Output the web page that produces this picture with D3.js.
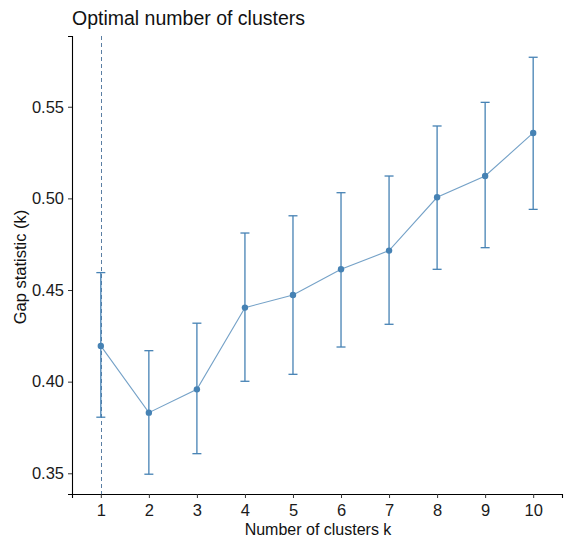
<!DOCTYPE html>
<html>
<head>
<meta charset="utf-8">
<script src="https://cdn.jsdelivr.net/npm/d3@7"></script>
<style>
  body { margin: 0; background: #fff; }
  text { font-family: "Liberation Sans", Arial, sans-serif; }
</style>
</head>
<body>
<svg id="chart" width="564" height="540"></svg>
<script>
let width = 564
let height = 540

// data
let ks = [1, 2, 3, 4, 5, 6, 7, 8, 9, 10]
let gap = [0.4195, 0.3831, 0.3958, 0.4404, 0.4473, 0.4613, 0.4715, 0.5006, 0.5122, 0.5357]
let gapLow = [0.3806, 0.3495, 0.3607, 0.4002, 0.4040, 0.4189, 0.4313, 0.4613, 0.4731, 0.4940]
let gapHigh = [0.4595, 0.4169, 0.4319, 0.4811, 0.4905, 0.5031, 0.5122, 0.5395, 0.5524, 0.5770]
let yTicks = [0.35, 0.40, 0.45, 0.50, 0.55]
let optimalK = 1

let margin = { top: 36, right: 2, bottom: 46, left: 72 }
let color = "#4682B4"

let svg = d3.select("#chart")

let xScale = d3.scaleLinear()
    .domain([0.4, 10.6])
    .range([margin.left, width - margin.right])

let yScale = d3.scaleLinear()
    .domain([0.3387, 0.5886])
    .range([height - margin.bottom, margin.top])

// 坐标轴
svg.append("g")
    .attr("transform", "translate(0," + (height - margin.bottom) + ")")
    .call(d3.axisBottom(xScale).tickValues(ks).tickFormat(d3.format("d")).tickSizeOuter(0).tickSize(4).tickPadding(6))
svg.append("g")
    .attr("transform", "translate(" + margin.left + ",0)")
    .call(d3.axisLeft(yScale).tickValues(yTicks).tickFormat(d3.format(".2f")).tickSizeOuter(0).tickSize(4).tickPadding(4))

svg.selectAll(".domain").attr("stroke", "#000").attr("stroke-width", 1.1)
svg.selectAll(".tick line").attr("stroke", "#333")
svg.selectAll(".tick text")
    .attr("font-size", "16.5px")
    .attr("fill", "#1a1a1a")

// optimal k dashed line
svg.append("line")
    .attr("x1", Math.round(xScale(optimalK)) + 0.5)
    .attr("x2", Math.round(xScale(optimalK)) + 0.5)
    .attr("y1", margin.top)
    .attr("y2", height - margin.bottom)
    .attr("stroke", "#5a7ea3")
    .attr("stroke-width", 1)
    .attr("stroke-dasharray", "4,3")

let rows = ks.map((k, i) => ({ k: k, v: gap[i], lo: gapLow[i], hi: gapHigh[i] }))

// error bars
let bars = svg.append("g").selectAll("g")
    .data(rows)
    .enter()
    .append("g")
    .attr("stroke", color)
    .attr("stroke-width", 1.3)
bars.append("line")
    .attr("x1", d => xScale(d.k))
    .attr("x2", d => xScale(d.k))
    .attr("y1", d => yScale(d.lo))
    .attr("y2", d => yScale(d.hi))
bars.append("line")
    .attr("x1", d => xScale(d.k) - 4.5)
    .attr("x2", d => xScale(d.k) + 4.5)
    .attr("y1", d => yScale(d.hi))
    .attr("y2", d => yScale(d.hi))
bars.append("line")
    .attr("x1", d => xScale(d.k) - 4.5)
    .attr("x2", d => xScale(d.k) + 4.5)
    .attr("y1", d => yScale(d.lo))
    .attr("y2", d => yScale(d.lo))

// line
svg.append("path")
    .datum(rows)
    .attr("fill", "none")
    .attr("stroke", color)
    .attr("stroke-opacity", 0.75)
    .attr("stroke-width", 1.1)
    .attr("d", d3.line().x(d => xScale(d.k)).y(d => yScale(d.v)))

// points
svg.append("g").selectAll("circle")
    .data(rows)
    .enter()
    .append("circle")
    .attr("cx", d => xScale(d.k))
    .attr("cy", d => yScale(d.v))
    .attr("r", 3.2)
    .attr("fill", color)

// 标题
svg.append("text")
    .attr("x", margin.left)
    .attr("y", 25)
    .attr("font-size", "19.5px")
    .attr("fill", "#111")
    .text("Optimal number of clusters")

svg.append("text")
    .attr("x", (margin.left + width - margin.right) / 2 + 1)
    .attr("y", 535)
    .attr("text-anchor", "middle")
    .attr("font-size", "16px")
    .attr("fill", "#111")
    .text("Number of clusters k")

svg.append("text")
    .attr("transform", "translate(26,267) rotate(-90)")
    .attr("text-anchor", "middle")
    .attr("font-size", "16.5px")
    .attr("fill", "#111")
    .text("Gap statistic (k)")
</script>
</body>
</html>
